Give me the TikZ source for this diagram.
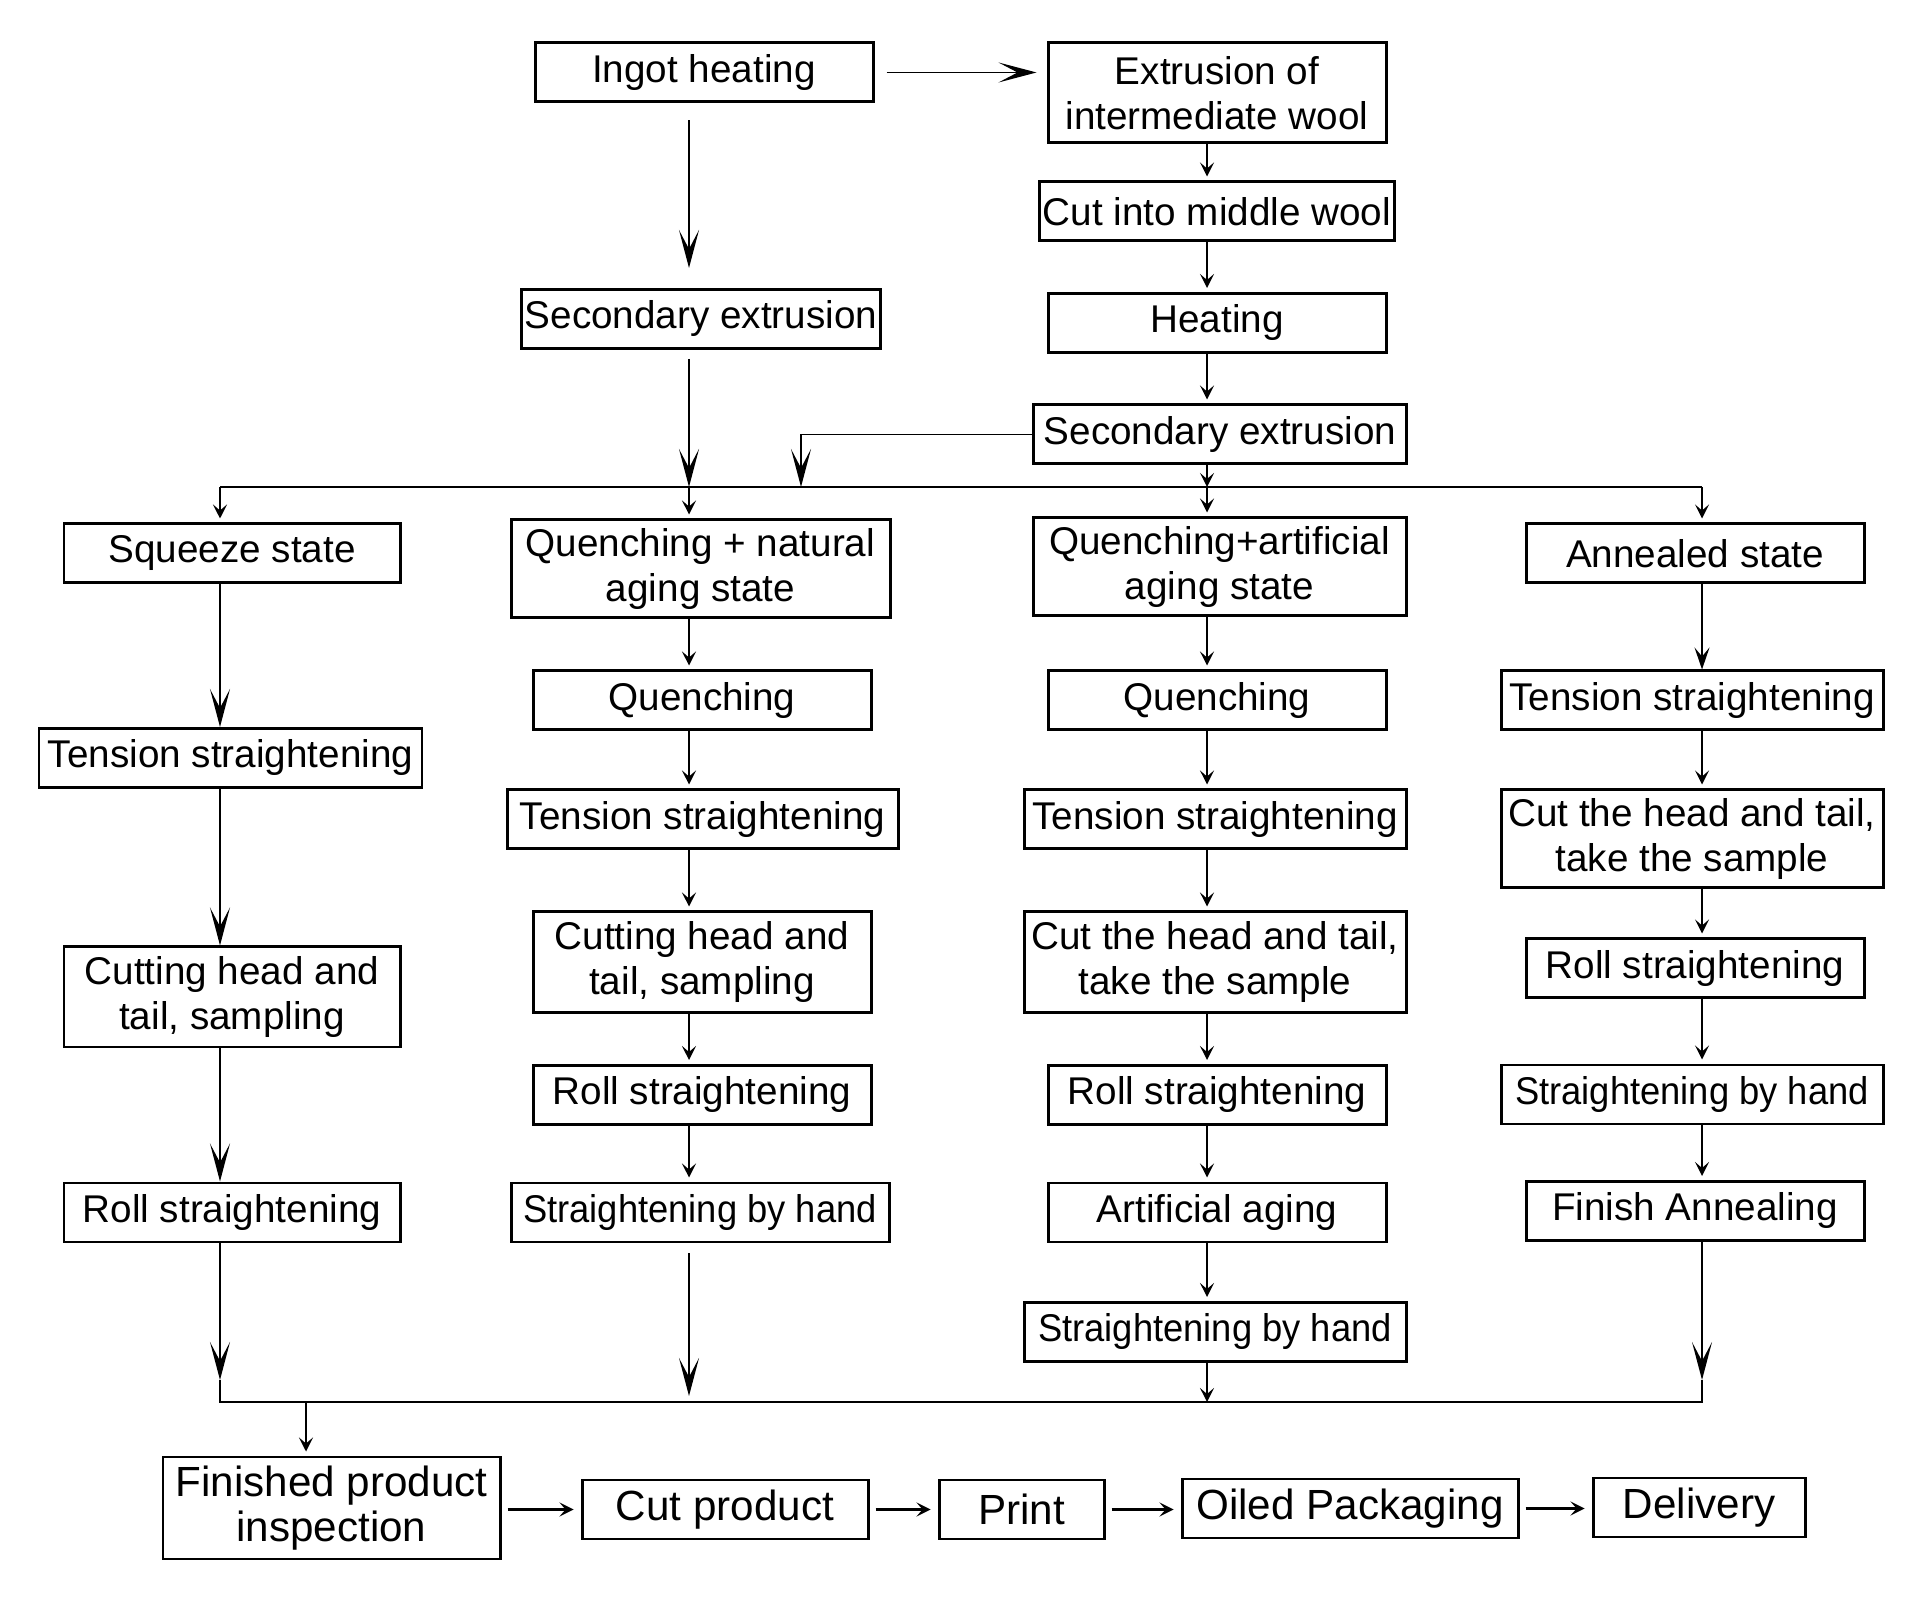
\documentclass[tikz,border=0pt]{standalone}
\usepackage{fontspec}
\setmainfont{Liberation Sans}
\newfontfamily\narrowfont[FakeStretch=0.94]{Liberation Sans}
\usetikzlibrary{arrows.meta}

\begin{document}
\begin{tikzpicture}[font=\fontsize{11}{12.8}\selectfont,
  box/.style={draw,line width=0.85pt,inner sep=1pt,minimum height=0.59cm,align=center},
  bot/.style={box,font=\fontsize{12}{12.8}\selectfont},
  ln/.style={line width=0.5pt},
  big/.style={ln,-{Stealth[length=3.8mm,width=2mm,inset=1.9mm]}},
  mid/.style={ln,-{Stealth[length=2.2mm,width=1.5mm,inset=0.9mm]}},
  sml/.style={ln,-{Stealth[length=1.4mm,width=1.4mm,inset=0.6mm]},shorten >=0.04cm}]
      \useasboundingbox (0,0) rectangle (19.2,16.05);

      % top part
      \node[box,minimum width=3.38cm] (t1) at (7.04,15.325) {Ingot heating};
      \node[box,minimum width=3.38cm,minimum height=1cm] (t2) at (12.17,15.12) {Extrusion of\\intermediate wool};
      \node[box,minimum width=3.53cm] (t3) at (12.17,13.935) {Cut into middle wool};
      \node[box,minimum width=3.38cm] (t4) at (12.17,12.82) {Heating};
      \node[box,minimum width=3.73cm] (t5) at (12.20,11.705) {Secondary extrusion};
      \node[box,minimum width=3.56cm] (t6) at (7.01,12.86) {Secondary extrusion};

      \coordinate (p1) at (2.20,11.18);
      \coordinate (p2) at (6.89,11.18);
      \coordinate (p3) at (12.07,11.18);
      \coordinate (p4) at (17.02,11.18);
      \coordinate (px) at (8.01,11.18);

      % squeeze state
      \node[box,minimum width=3.36cm] (a1) at (2.32,10.515) {Squeeze state};
      \node[box,minimum width=3.83cm] (a2) at (2.305,8.47) {Tension straightening};
      \node[box,minimum width=3.36cm,minimum height=1cm] (a3) at (2.32,6.08) {Cutting head and\\tail, sampling};
      \node[box,minimum width=3.36cm] (a4) at (2.32,3.925) {Roll straightening};

      % natural aging
      \node[box,minimum width=3.79cm,minimum height=0.98cm] (b1) at (7.005,10.36) {Quenching + natural\\aging state};
      \node[box,minimum width=3.38cm] (b2) at (7.02,9.045) {Quenching};
      \node[box,minimum width=3.91cm] (b3) at (7.025,7.855) {Tension straightening};
      \node[box,minimum width=3.38cm,minimum height=1.01cm] (b4) at (7.02,6.425) {Cutting head and\\tail, sampling};
      \node[box,minimum width=3.38cm] (b5) at (7.02,5.10) {Roll straightening};
      \node[box,minimum width=3.78cm] (b6) at (7.00,3.925) {\narrowfont Straightening by hand};

      % artificial aging
      \node[box,minimum width=3.73cm,minimum height=0.98cm] (c1) at (12.195,10.38) {Quenching+artificial\\aging state};
      \node[box,minimum width=3.38cm] (c2) at (12.17,9.045) {Quenching};
      \node[box,minimum width=3.82cm] (c3) at (12.15,7.855) {Tension straightening};
      \node[box,minimum width=3.82cm,minimum height=1.01cm] (c4) at (12.15,6.425) {Cut the head and tail,\\take the sample};
      \node[box,minimum width=3.38cm] (c5) at (12.17,5.10) {Roll straightening};
      \node[box,minimum width=3.38cm] (c6) at (12.17,3.925) {Artificial aging};
      \node[box,minimum width=3.82cm] (c7) at (12.15,2.73) {\narrowfont Straightening by hand};

      % annealed
      \node[box,minimum width=3.38cm] (d1) at (16.95,10.515) {Annealed state};
      \node[box,minimum width=3.82cm] (d2) at (16.92,9.045) {Tension straightening};
      \node[box,minimum width=3.82cm,minimum height=0.98cm] (d3) at (16.92,7.66) {Cut the head and tail,\\take the sample};
      \node[box,minimum width=3.38cm] (d4) at (16.95,6.365) {Roll straightening};
      \node[box,minimum width=3.82cm] (d5) at (16.92,5.105) {\narrowfont Straightening by hand};
      \node[box,minimum width=3.38cm] (d6) at (16.95,3.94) {Finish Annealing};

      \coordinate (h1) at (2.20,2.25);
      \coordinate (h2) at (6.89,2.09);
      \coordinate (h4) at (17.02,2.25);
      \coordinate (q1) at (2.20,2.03);
      \coordinate (q3) at (12.07,2.03);
      \coordinate (q4) at (17.02,2.03);
      \coordinate (qf) at (3.06,2.03);

      % bottom row
      \node[bot,minimum width=3.37cm,minimum height=1.02cm] (e1) at (3.315,0.97) {Finished product\\inspection};
      \node[bot,minimum width=2.86cm] (e2) at (7.25,0.955) {Cut product};
      \node[bot,minimum width=1.65cm] (e3) at (10.215,0.955) {Print};
      \node[bot,minimum width=3.36cm] (e4) at (13.50,0.965) {Oiled Packaging};
      \node[bot,minimum width=2.12cm] (e5) at (16.99,0.975) {Delivery};

      % arrows top
      \draw[big,shorten <=0.12cm,shorten >=0.1cm] (t1.east) -- (t1.east -| t2.west);
      \draw[big,shorten <=0.17cm,shorten >=0.2cm] (t1.south -| p2) -- (t6.north -| p2);
      \draw[big,shorten <=0.09cm] (t6.south -| p2) -- (p2);
      \draw[sml] (t2.south -| p3) -- (t3.north -| p3);
      \draw[sml] (t3.south -| p3) -- (t4.north -| p3);
      \draw[sml] (t4.south -| p3) -- (t5.north -| p3);
      \draw[sml,shorten >=0pt] (t5.south -| p3) -- (p3);
      \draw[big] (t5.west) -| (px);
      \draw[ln] (p1) -- (p4);
      \draw[sml] (p1) -- (a1.north -| p1);
      \draw[sml] (p2) -- (b1.north -| p2);
      \draw[sml] (p3) -- (c1.north -| p3);
      \draw[sml] (p4) -- (d1.north -| p4);

      \draw[big] (a1.south -| p1) -- (a2.north -| p1);
      \draw[big] (a2.south -| p1) -- (a3.north -| p1);
      \draw[big] (a3.south -| p1) -- (a4.north -| p1);
      \draw[big] (a4.south -| p1) -- (h1);

      \draw[sml] (b1.south -| p2) -- (b2.north -| p2);
      \draw[sml] (b2.south -| p2) -- (b3.north -| p2);
      \draw[sml] (b3.south -| p2) -- (b4.north -| p2);
      \draw[sml] (b4.south -| p2) -- (b5.north -| p2);
      \draw[sml] (b5.south -| p2) -- (b6.north -| p2);
      \draw[big,shorten <=0.1cm] (b6.south -| p2) -- (h2);

      \draw[sml] (c1.south -| p3) -- (c2.north -| p3);
      \draw[sml] (c2.south -| p3) -- (c3.north -| p3);
      \draw[sml] (c3.south -| p3) -- (c4.north -| p3);
      \draw[sml] (c4.south -| p3) -- (c5.north -| p3);
      \draw[sml] (c5.south -| p3) -- (c6.north -| p3);
      \draw[sml] (c6.south -| p3) -- (c7.north -| p3);
      \draw[sml,shorten >=0pt] (c7.south -| p3) -- (q3);

      \draw[mid] (d1.south -| p4) -- (d2.north -| p4);
      \draw[sml] (d2.south -| p4) -- (d3.north -| p4);
      \draw[sml] (d3.south -| p4) -- (d4.north -| p4);
      \draw[sml] (d4.south -| p4) -- (d5.north -| p4);
      \draw[sml] (d5.south -| p4) -- (d6.north -| p4);
      \draw[big] (d6.south -| p4) -- (h4);

      \draw[ln,line width=0.65pt] (h1) -- (q1) -- (q4) -- (h4);
      \draw[sml] (qf) -- (e1.north -| qf);

      % bottom arrows
      \draw[sml,line width=0.65pt,shorten <=0.06cm,shorten >=0.07cm] (e1.east |- e2) -- (e2.west);
      \draw[sml,line width=0.65pt,shorten <=0.06cm,shorten >=0.07cm] (e2.east) -- (e3.west);
      \draw[sml,line width=0.65pt,shorten <=0.06cm,shorten >=0.07cm] (e3.east) -- (e4.west |- e3);
      \draw[sml,line width=0.65pt,shorten <=0.06cm,shorten >=0.07cm] (e4.east) -- (e5.west |- e4);
\end{tikzpicture}
\end{document}
